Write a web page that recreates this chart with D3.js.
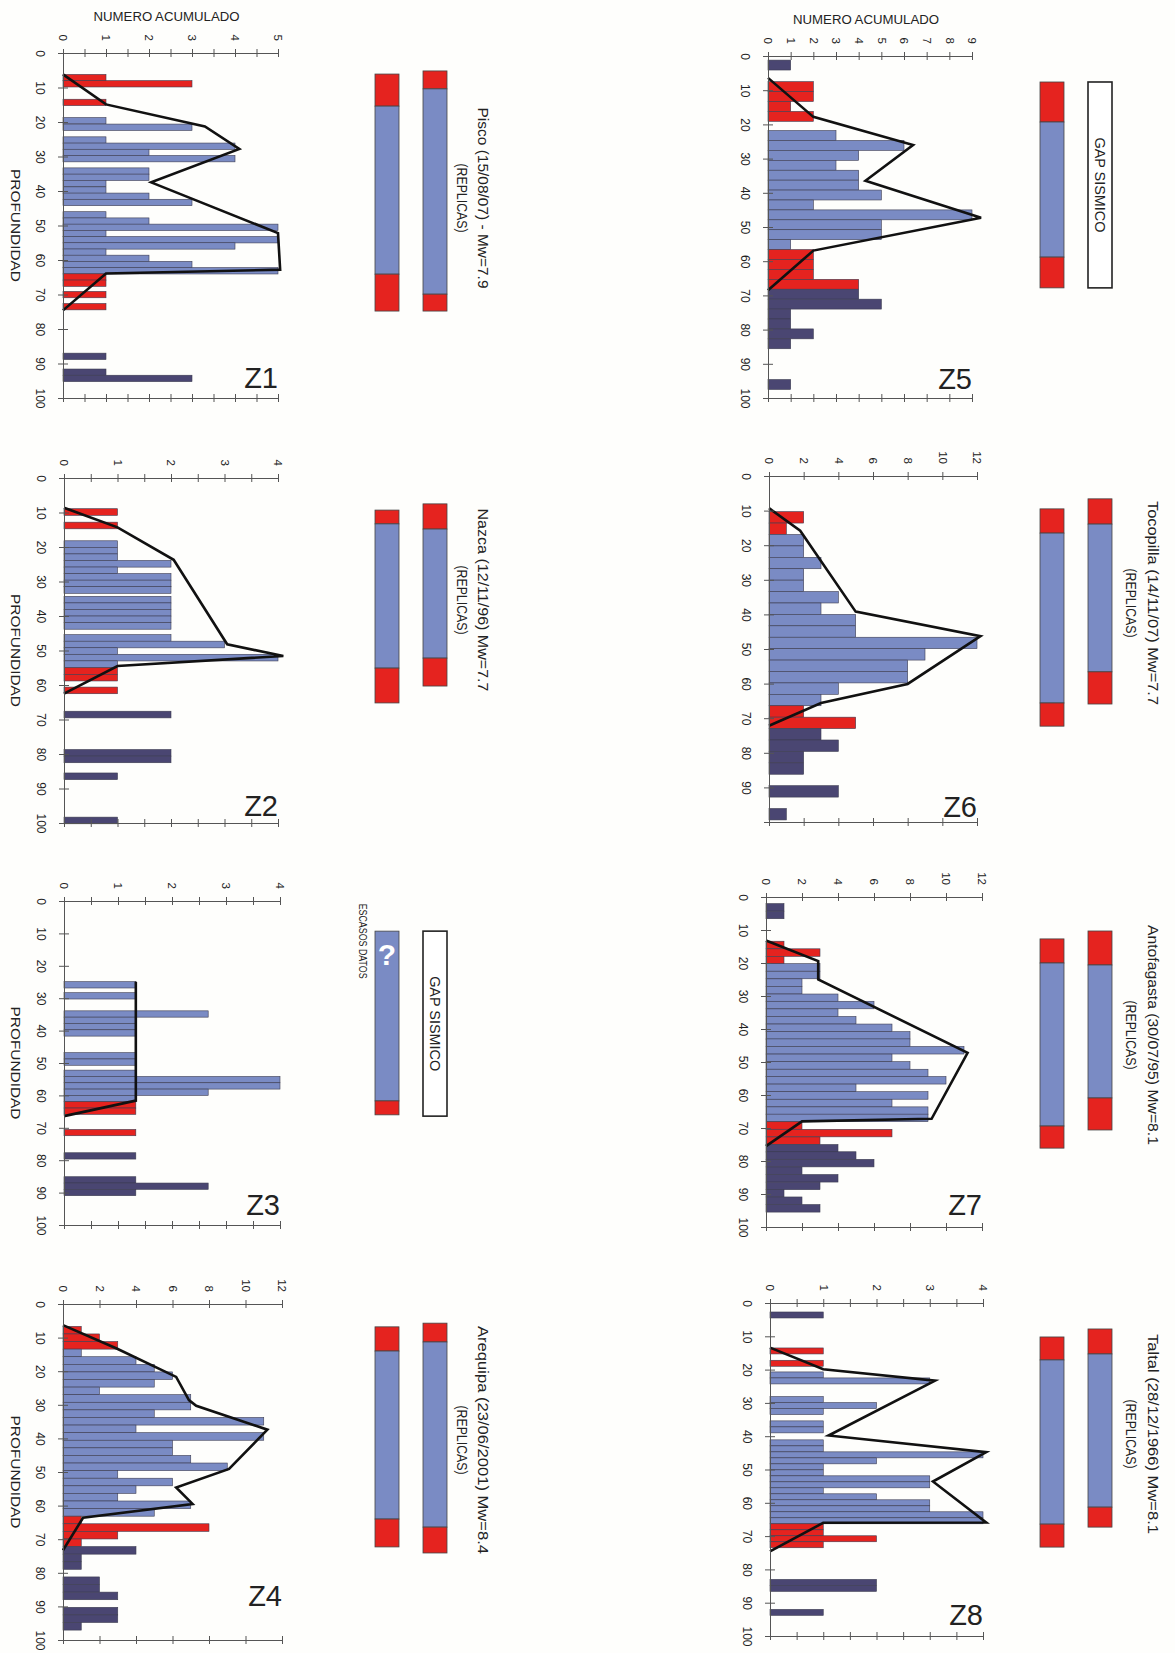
<!DOCTYPE html>
<html><head><meta charset="utf-8">
<script src="https://cdn.jsdelivr.net/npm/d3@7"></script>
<style>body{margin:0;background:#fefefc}svg{display:block}text{font-family:"Liberation Sans",Arial,sans-serif;fill:#222}</style>
</head><body>
<svg id="chart" width="1175" height="1653"></svg>
<script>
// ---------------- DATA ----------------
const panelNames = ["Z1","Z2","Z3","Z4","Z5","Z6","Z7","Z8"];
const countMax   = [5,4,4,12,9,12,12,4];
const countTickStep  = [0.5,0.5,0.5,2,1,2,2,0.5];
const countLabelStep = [1,1,1,2,1,2,2,1];
const binSize = [1.85,1.93,1.95,2.26,2.9,3.3,2.28,1.8];
const depthTicks = [0,10,20,30,40,50,60,70,80,90,100];
const depthLabelMax = [100,100,100,100,100,90,100,100];
const titles = [
  "Pisco (15/08/07) - Mw=7.9","Nazca (12/11/96) Mw=7.7",null,"Arequipa (23/06/2001) Mw=8.4",
  null,"Tocopilla (14/11/07) Mw=7.7","Antofagasta (30/07/95) Mw=8.1","Taltal (28/12/1966) Mw=8.1"];
const subtitle = "(REPLICAS)";
const gapLabel = "GAP SISMICO";
const scarceLabel = "ESCASOS DATOS";
const axisCountLabel = "NUMERO ACUMULADO";
const axisDepthLabel = "PROFUNDIDAD";
// bars: [top depth, count, zone]  s = superficial (red), i = interplaca (blue), d = profunda (dark)
const z1Bars = [[6.2,1,"s"],[8.0,3,"s"],[13.4,1,"s"],
 [18.7,1,"i"],[20.6,3,"i"],[24.3,1,"i"],[26.1,4,"i"],[27.9,2,"i"],[29.7,4,"i"],
 [33.3,2,"i"],[35.1,2,"i"],[36.9,1,"i"],[38.8,1,"i"],[40.6,2,"i"],[42.4,3,"i"],
 [46.0,1,"i"],[47.8,2,"i"],[49.6,5,"i"],[51.4,1,"i"],[53.2,5,"i"],[55.0,4,"i"],[56.8,1,"i"],[58.6,2,"i"],[60.4,3,"i"],[62.2,5,"i"],
 [64.0,1,"s"],[65.8,1,"s"],[69.1,1,"s"],[72.6,1,"s"],
 [87.0,1,"d"],[91.6,1,"d"],[93.4,3,"d"]];
const z2Bars = [[8.9,1,"s"],[12.8,1,"s"],
 [18.2,1,"i"],[20.1,1,"i"],[22.0,1,"i"],[23.9,2,"i"],[25.8,1,"i"],[27.7,2,"i"],[29.6,2,"i"],[31.5,2,"i"],
 [34.3,2,"i"],[36.2,2,"i"],[38.1,2,"i"],[40.0,2,"i"],[41.9,2,"i"],
 [45.4,2,"i"],[47.3,3,"i"],[49.2,1,"i"],[51.1,4,"i"],[53.0,1,"i"],
 [55.0,1,"s"],[56.9,1,"s"],[60.6,1,"s"],
 [67.6,2,"d"],[78.7,2,"d"],[80.6,2,"d"],[85.5,1,"d"],[98.3,1,"d"]];
const z3Bars = [[24.9,1.33,"i"],[28.3,1.33,"i"],[33.9,2.67,"i"],[35.85,1.33,"i"],[37.8,1.33,"i"],[39.75,1.33,"i"],
 [46.8,1.33,"i"],[48.75,1.33,"i"],[52.2,1.33,"i"],[54.15,4,"i"],[56.1,4,"i"],[58.05,2.67,"i"],[60.0,1.33,"i"],
 [61.95,1.33,"s"],[63.9,1.33,"s"],[70.5,1.33,"s"],
 [77.7,1.33,"d"],[85.1,1.33,"d"],[87.05,2.67,"d"],[89.0,1.33,"d"]];
const z4Bars = [[6.65,1,"s"],[8.91,2,"s"],[11.17,3,"s"],
 [13.43,1,"i"],[15.69,4,"i"],[17.95,5,"i"],[20.21,6,"i"],[22.47,5,"i"],[24.73,2,"i"],[26.99,7,"i"],[29.25,7,"i"],
 [31.51,5,"i"],[33.77,11,"i"],[36.03,4,"i"],[38.29,11,"i"],[40.55,6,"i"],[42.81,6,"i"],[45.07,7,"i"],[47.33,9,"i"],
 [49.59,3,"i"],[51.85,6,"i"],[54.11,4,"i"],[56.37,3,"i"],[58.63,7,"i"],[60.89,5,"i"],
 [63.15,1,"s"],[65.41,8,"s"],[67.67,3,"s"],[69.93,1,"s"],
 [72.19,4,"d"],[74.45,1,"d"],[76.71,1,"d"],[81.23,2,"d"],[83.49,2,"d"],[85.75,3,"d"],
 [90.27,3,"d"],[92.53,3,"d"],[94.79,1,"d"]];
const z5Bars = [[1.2,1,"d"],
 [7.5,2,"s"],[10.4,2,"s"],[13.3,1,"s"],[16.2,2,"s"],
 [21.8,3,"i"],[24.7,6,"i"],[27.6,4,"i"],[30.5,3,"i"],[33.4,4,"i"],[36.3,4,"i"],[39.2,5,"i"],[42.1,2,"i"],
 [45.0,9,"i"],[47.9,5,"i"],[50.8,5,"i"],[53.7,1,"i"],
 [56.6,2,"s"],[59.5,2,"s"],[62.4,2,"s"],[65.3,4,"s"],
 [68.2,4,"d"],[71.1,5,"d"],[74.0,1,"d"],[76.9,1,"d"],[79.8,2,"d"],[82.7,1,"d"],[94.6,1,"d"]];
const z6Bars = [[10.3,2,"s"],[13.6,1,"s"],
 [16.9,2,"i"],[20.2,2,"i"],[23.5,3,"i"],[26.8,2,"i"],[30.1,2,"i"],[33.4,4,"i"],[36.7,3,"i"],[40.0,5,"i"],
 [43.3,5,"i"],[46.6,12,"i"],[49.9,9,"i"],[53.2,8,"i"],[56.5,8,"i"],[59.8,4,"i"],[63.1,3,"i"],
 [66.4,2,"s"],[69.7,5,"s"],
 [73.0,3,"d"],[76.3,4,"d"],[79.6,2,"d"],[82.9,2,"d"],[89.5,4,"d"],[96.1,1,"d"]];
const z7Bars = [[2.0,1,"d"],[4.3,1,"d"],
 [13.4,1,"s"],[15.7,3,"s"],[18.0,1,"s"],
 [20.2,3,"i"],[22.5,3,"i"],[24.8,2,"i"],[27.1,2,"i"],[29.4,4,"i"],[31.6,6,"i"],[33.9,4,"i"],[36.2,5,"i"],
 [38.5,7,"i"],[40.8,8,"i"],[43.0,8,"i"],[45.3,11,"i"],[47.6,7,"i"],[49.9,8,"i"],[52.2,9,"i"],[54.4,10,"i"],
 [56.7,5,"i"],[59.0,9,"i"],[61.3,7,"i"],[63.6,9,"i"],[65.8,9,"i"],
 [68.1,2,"s"],[70.4,7,"s"],[72.7,3,"s"],
 [75.0,4,"d"],[77.2,5,"d"],[79.5,6,"d"],[81.8,2,"d"],[84.1,4,"d"],[86.4,3,"d"],[88.6,1,"d"],[90.9,2,"d"],[93.2,3,"d"]];
const z8Bars = [[2.7,1,"d"],
 [13.5,1,"s"],[17.2,1,"s"],
 [20.7,1,"i"],[22.5,3,"i"],[28.1,1,"i"],[29.9,2,"i"],[31.7,1,"i"],[35.4,1,"i"],[37.2,1,"i"],
 [41.1,1,"i"],[42.9,1,"i"],[44.7,4,"i"],[46.5,2,"i"],[48.3,1,"i"],[50.1,1,"i"],[51.9,3,"i"],[53.7,3,"i"],
 [55.5,1,"i"],[57.3,2,"i"],[59.1,3,"i"],[60.9,3,"i"],[62.7,4,"i"],[64.5,4,"i"],
 [66.3,1,"s"],[68.1,1,"s"],[69.9,2,"s"],[71.7,1,"s"],
 [83.0,2,"d"],[84.8,2,"d"],[92.0,1,"d"]];
// envelope lines: [count, depth]
const z1Line = [[0,6.2],[1,14.9],[3.3,21.3],[4.1,27.8],[2.05,37.5],[5.0,52.2],[5.05,62.8],[1.0,63.9],[0,74.6]];
const z2Line = [[0,8.6],[1,14.3],[2.05,23.7],[3.05,48.2],[4.1,51.6],[1.0,54.5],[0,62.5]];
const z3Line = [[1.33,24.9],[1.33,61.6],[0,66.4]];
const z4Line = [[0,6.3],[3.0,13.4],[6.2,21.7],[6.9,28.6],[7.3,30.3],[11.2,37.4],[9.1,49.1],[6.2,54.6],[7.1,59.5],[1.1,63.6],[0,73.3]];
const z5Line = [[0,6.4],[2.0,17.8],[6.4,26.0],[4.3,36.5],[9.4,47.3],[2.0,56.9],[0,68.5]];
const z6Line = [[0,9.3],[1.8,15.8],[5.0,39.2],[12.2,46.3],[8.0,60.1],[3.0,65.6],[0,72.2]];
const z7Line = [[0,13.2],[2.9,19.4],[2.9,25.0],[11.2,47.2],[9.2,67.2],[2.0,68.0],[0,75.5]];
const z8Line = [[0,13.4],[1.0,19.9],[3.1,23.3],[1.1,39.8],[4.06,44.8],[3.06,53.6],[4.06,65.9],[1.0,66.0],[0,74.6]];
// schematic zone columns (same depth scale): [top, interplate top, interplate bottom, bottom] km; null = gap box
const schemeInner = [[6.1,15.4,64.1,74.8],[9.3,13.3,55.1,65.2],[9.3,9.3,61.7,66.0],[6.8,14.0,64.0,72.3],
                     [7.6,19.3,58.8,67.8],[9.5,16.5,65.6,72.3],[12.7,20.0,69.4,76.1],[10.2,17.1,66.4,73.3]];
const schemeOuter = [[5.2,10.4,69.9,74.8],[7.5,14.8,52.2,60.3],[9.3,null,null,66.4],[5.7,11.3,66.4,74.1],
                     [7.6,null,null,67.8],[6.6,13.9,56.6,65.9],[10.3,20.6,60.9,70.6],[7.8,15.3,61.3,67.3]];

const barsAll = [z1Bars,z2Bars,z3Bars,z4Bars,z5Bars,z6Bars,z7Bars,z8Bars];
const linesAll = [z1Line,z2Line,z3Line,z4Line,z5Line,z6Line,z7Line,z8Line];

// ---------------- LAYOUT / STYLE ----------------
const colors = {s:"#e5231f", i:"#7a8bc4", d:"#4a4672"};
const layout = [
  {x0:63, x1:278, y0:53,  y1:398,  g:0, ty:198,  zd:97},
  {x0:64, x1:278, y0:478, y1:823,  g:0, ty:600,  zd:98},
  {x0:64, x1:280, y0:901, y1:1225, g:0, ty:1023, zd:97},
  {x0:63, x1:282, y0:1304,y1:1640, g:0, ty:1440, zd:90},
  {x0:768,x1:972, y0:56,  y1:398,  g:1, ty:185,  zd:97.5},
  {x0:769,x1:977, y0:476, y1:822,  g:1, ty:603,  zd:98.5},
  {x0:766,x1:982, y0:897, y1:1227, g:1, ty:1035, zd:96.5},
  {x0:770,x1:983, y0:1303,y1:1636, g:1, ty:1434, zd:96.7}];
const groups = [{ci:375, co:423, t1:483, t2:462}, {ci:1040, co:1088, t1:1153, t2:1131}];
const titleLen = [181,183,0,228,0,204,220,200];
const colW = 24;

const svg = d3.select("#chart");
svg.append("rect").attr("width",1175).attr("height",1653).attr("fill","#fefefc");

panelNames.forEach((name, p) => {
  const L = layout[p];
  const x = d3.scaleLinear().domain([0, countMax[p]]).range([L.x0, L.x1]);
  const y = d3.scaleLinear().domain([0, 100]).range([L.y0, L.y1]);
  const g = svg.append("g");
  const cTicks = d3.range(0, countMax[p] + 1e-9, countTickStep[p]);
  const fmtC = v => (Math.abs(v / countLabelStep[p] - Math.round(v / countLabelStep[p])) < 1e-6) ? d3.format("d")(v) : "";

  // bars
  g.selectAll("rect.bar").data(barsAll[p]).join("rect")
    .attr("x", x(0)).attr("y", d => y(d[0]))
    .attr("width", d => x(d[1]) - x(0))
    .attr("height", d => y(d[0] + binSize[p]) - y(d[0]))
    .attr("fill", d => colors[d[2]])
    .attr("stroke", "#3c3c50").attr("stroke-width", 0.6);

  // envelope line
  g.append("path").datum(linesAll[p])
    .attr("d", d3.line().x(d => x(d[0])).y(d => y(d[1])))
    .attr("fill", "none").attr("stroke", "#111").attr("stroke-width", 2.6).attr("stroke-linejoin", "miter");

  // axes
  const styleAxis = sel => { sel.select(".domain").attr("stroke", "#555"); sel.selectAll(".tick line").attr("stroke", "#555"); };
  const top = g.append("g").attr("transform", `translate(0,${L.y0})`)
    .call(d3.axisTop(x).tickValues(cTicks).tickFormat(fmtC).tickSize(4).tickSizeOuter(0));
  top.call(styleAxis);
  top.selectAll("text").attr("transform", "rotate(90)").attr("x", -12).attr("y", 0).attr("dy", "0.35em")
    .attr("text-anchor", "end").style("font-size", "11.5px").style("font-family", "Liberation Sans, Arial, sans-serif").attr("fill", "#333");
  g.append("g").attr("transform", `translate(0,${L.y0})`)
    .call(d3.axisTop(x).tickValues(cTicks).tickFormat("").tickSize(-4).tickSizeOuter(0)).call(styleAxis);
  g.append("g").attr("transform", `translate(0,${L.y1})`)
    .call(d3.axisBottom(x).tickValues(cTicks).tickFormat("").tickSize(4).tickSizeOuter(0)).call(styleAxis);
  g.append("g").attr("transform", `translate(0,${L.y1})`)
    .call(d3.axisBottom(x).tickValues(cTicks).tickFormat("").tickSize(-4).tickSizeOuter(0)).call(styleAxis);

  const left = g.append("g").attr("transform", `translate(${L.x0},0)`)
    .call(d3.axisLeft(y).tickValues(depthTicks).tickFormat(v => v <= depthLabelMax[p] ? v : "").tickSize(5).tickSizeOuter(0));
  left.call(styleAxis);
  left.selectAll("text").attr("transform", "rotate(90)").attr("x", 0).attr("y", 23).attr("dy", "0.35em")
    .attr("text-anchor", "middle").style("font-size", "12px").style("font-family", "Liberation Sans, Arial, sans-serif").attr("fill", "#333");
  g.append("g").attr("transform", `translate(${L.x0},0)`)
    .call(d3.axisLeft(y).tickValues(depthTicks).tickFormat("").tickSize(-5).tickSizeOuter(0)).call(styleAxis);

  // panel tag
  g.append("text").attr("x", L.x1).attr("y", y(L.zd)).attr("text-anchor", "end")
    .style("font-size", "29px").text(name);

  if (L.g === 0) {
    g.append("text").attr("transform", `translate(15,${y(50)}) rotate(90)`).attr("text-anchor", "middle")
      .attr("dy", "0.35em").style("font-size", "12.5px").attr("textLength", 113).attr("lengthAdjust", "spacingAndGlyphs")
      .text(axisDepthLabel);
  }
  if (p === 0 || p === 4) {
    g.append("text").attr("x", (L.x0 + L.x1) / 2 - 4).attr("y", L.y0 - 32).attr("text-anchor", "middle")
      .style("font-size", "12.5px").attr("textLength", 146).attr("lengthAdjust", "spacingAndGlyphs").text(axisCountLabel);
  }

  // schematic columns (drawn on the same depth scale)
  const G = groups[L.g];
  const drawCol = (cx, z) => {
    const segs = [[z[0], z[1], "s"], [z[1], z[2], "i"], [z[2], z[3], "s"]].filter(d => d[1] - d[0] > 0);
    g.selectAll(null).data(segs).join("rect")
      .attr("x", cx).attr("width", colW)
      .attr("y", d => y(d[0])).attr("height", d => y(d[1]) - y(d[0]))
      .attr("fill", d => colors[d[2]]).attr("stroke", "#444").attr("stroke-width", 0.8);
  };
  drawCol(G.ci, schemeInner[p]);
  const o = schemeOuter[p];
  if (o[1] === null) {
    g.append("rect").attr("x", G.co).attr("width", colW).attr("y", y(o[0])).attr("height", y(o[3]) - y(o[0]))
      .attr("fill", "#fff").attr("stroke", "#222").attr("stroke-width", 1.6);
    g.append("text").attr("transform", `translate(${G.co + colW / 2},${(y(o[0]) + y(o[3])) / 2}) rotate(90)`)
      .attr("text-anchor", "middle").attr("dy", "0.35em").style("font-size", "14px")
      .attr("textLength", 95).attr("lengthAdjust", "spacingAndGlyphs").text(gapLabel);
  } else {
    drawCol(G.co, o);
  }
  if (titles[p]) {
    g.append("text").attr("transform", `translate(${G.t1},${L.ty}) rotate(90)`).attr("text-anchor", "middle")
      .attr("dy", "0.35em").style("font-size", "15px")
      .attr("textLength", titleLen[p]).attr("lengthAdjust", "spacingAndGlyphs").text(titles[p]);
    g.append("text").attr("transform", `translate(${G.t2},${L.ty}) rotate(90)`).attr("text-anchor", "middle")
      .attr("dy", "0.35em").style("font-size", "15px")
      .attr("textLength", 69).attr("lengthAdjust", "spacingAndGlyphs").text(subtitle);
  }
  if (p === 2) {
    const sTop = y(schemeInner[p][0]);
    g.append("text").attr("x", G.ci + colW / 2).attr("y", sTop + 34).attr("text-anchor", "middle")
      .style("font-size", "30px").style("font-weight", "bold").style("fill", "#fff").text("?");
    g.append("text").attr("transform", `translate(${G.ci - 12},${sTop + 10}) rotate(90)`).attr("text-anchor", "middle")
      .attr("dy", "0.35em").style("font-size", "11px")
      .attr("textLength", 75).attr("lengthAdjust", "spacingAndGlyphs").text(scarceLabel);
  }
});
</script>
</body></html>
